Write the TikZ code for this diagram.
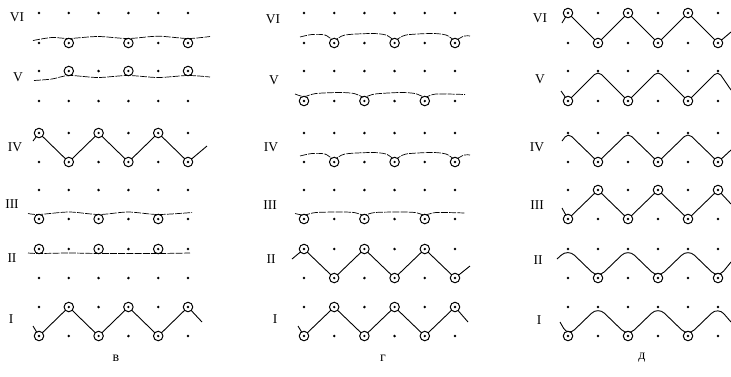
\documentclass[tikz,border=0pt]{standalone}
\usepackage{fontspec}
\setmainfont{Liberation Serif}
\newcommand\stdots[3]{\foreach \cc in {#3}{\node[dt] (#1-#2-\cc-d) at (#1-#2-\cc) {};}}
\newcommand\stloops[3]{\foreach \cc in {#3}{\node[lp] (#1-#2-\cc-l) at (#1-#2-\cc) {};}}
\begin{document}
\begin{tikzpicture}[x=1pt,y=-1pt,
  dt/.style={circle,fill=black,inner sep=0pt,minimum size=2.8pt},
  lp/.style={circle,draw=black,fill=white,line width=1pt,inner sep=0pt,minimum size=9.5pt,
     path picture={\fill[black] (path picture bounding box.center) circle (1.3pt);}},
  thr/.style={line width=0.9pt},
  flt/.style={line width=0.7pt,dash pattern=on 7pt off 1.2pt},
  rl/.style={font=\fontsize{13.5}{13.5}\selectfont,inner sep=0pt},
  pl/.style={font=\fontsize{14}{14}\selectfont,inner sep=0pt}]
\useasboundingbox (0,0) rectangle (731,376);
\fill[white] (0,0) rectangle (731,376);
% grid coordinates
\foreach \pn/\xo/\xs in {b/39/29.8,g/304/30.2,d/568/30}{
  \foreach \rw/\yy in {1/13,2/43,3/71,4/101,5/133,6/162,7/190,8/219,9/249,10/278,11/307,12/336}{
    \foreach \cc in {1,...,6}{
      \coordinate (\pn-\rw-\cc) at ({\xo+(\cc-1)*\xs},\yy);
}}}
% ---------- panel B ----------
\draw[flt] plot[smooth,tension=0.5] coordinates {(33,40.5) (52,37.5) (69,38.5) (98,36.5) (128,38.5) (158,36.2) (188,38.5) (210,36.5)};
\draw[flt] plot[smooth,tension=0.5] coordinates {(34,80.5) (52,79) (69,75.5) (98,77.5) (128,75.5) (158,77.5) (188,75.5) (210,77)};
\draw[thr] (33,141) -- (b-5-1) -- (b-6-2) -- (b-5-3) -- (b-6-4) -- (b-5-5) -- (b-6-6) -- (207,146);
\draw[flt] plot[smooth,tension=0.5] coordinates {(28,213.5) (39,214.5) (69,212) (99,214.5) (128,212) (158,214.5) (192,212.5)};
\draw[flt] plot[smooth,tension=0.5] coordinates {(28,253) (39,253.5) (69,253) (99,253.5) (128,253.5) (158,253.5) (190,253)};
\draw[thr] (33,326) -- (b-12-1) -- (b-11-2) -- (b-12-3) -- (b-11-4) -- (b-12-5) -- (b-11-6) -- (202,322);
% ---------- panel G ----------
\draw[flt] plot[smooth,tension=0.5] coordinates {(300,37) (312,34.5) (325,35) (334,40) (345,35) (372,33.5) (386,35) (395,40) (406,35) (432,33.5) (446,35) (455,40) (464,36) (470,36)};
\draw[flt] plot[smooth,tension=0.5] coordinates {(295,94) (304,96.5) (316,93.5) (340,92.5) (354,93.5) (364,97) (375,94) (400,92.5) (415,93.5) (425,97) (436,94) (465,94.5)};
\draw[flt] plot[smooth,tension=0.5] coordinates {(300,156) (312,153.5) (325,154) (334,159) (345,154) (372,152.5) (386,154) (395,159) (406,154) (432,152.5) (446,154) (455,159) (464,155) (470,155)};
\draw[flt] plot[smooth,tension=0.5] coordinates {(295,213.5) (304,215) (316,212.5) (340,212) (354,212.5) (364,215) (375,212.5) (400,212) (415,212.5) (425,215) (436,212.5) (465,213)};
\draw[thr] (292,259) -- (g-9-1) -- (g-10-2) -- (g-9-3) -- (g-10-4) -- (g-9-5) -- (g-10-6) -- (470,266);
\draw[thr] (298,326) -- (g-12-1) -- (g-11-2) -- (g-12-3) -- (g-11-4) -- (g-12-5) -- (g-11-6) -- (468,322);
% ---------- panel D ----------
\draw[thr] (562,23) -- (d-1-1) -- (d-2-2) -- (d-1-3) -- (d-2-4) -- (d-1-5) -- (d-2-6) -- (731,32);
\draw[thr,rounded corners=5pt] (561,91) -- (d-4-1) -- (d-3-2) -- (d-4-3) -- (d-3-4) -- (d-4-5) -- (d-3-6) -- (731,90);
\draw[thr,rounded corners=5pt] (562,141) -- (d-5-1) -- (d-6-2) -- (d-5-3) -- (d-6-4) -- (d-5-5) -- (d-6-6) -- (731,150);
\draw[thr] (562,208) -- (d-8-1) -- (d-7-2) -- (d-8-3) -- (d-7-4) -- (d-8-5) -- (d-7-6) -- (731,204);
\draw[thr,rounded corners=9pt] (557,259) -- (d-9-1) -- (d-10-2) -- (d-9-3) -- (d-10-4) -- (d-9-5) -- (d-10-6) -- (731,262);
\draw[thr,rounded corners=9pt] (560,322) -- (d-12-1) -- (d-11-2) -- (d-12-3) -- (d-11-4) -- (d-12-5) -- (d-11-6) -- (731,322);
% ---------- stitches B ----------
\stdots{b}{1}{1,...,6}
\stdots{b}{2}{1,5} \stloops{b}{2}{2,4,6}
\stdots{b}{3}{1,3,5} \stloops{b}{3}{2,4,6}
\stdots{b}{4}{1,...,6}
\stloops{b}{5}{1,3,5} \stdots{b}{5}{2,4,6}
\stloops{b}{6}{2,4,6} \stdots{b}{6}{1,3,5}
\stdots{b}{7}{1,...,6}
\stloops{b}{8}{1,3,5} \stdots{b}{8}{2,4,6}
\stloops{b}{9}{1,3,5} \stdots{b}{9}{2,4,6}
\stdots{b}{10}{1,...,6}
\stloops{b}{11}{2,4,6} \stdots{b}{11}{1,3,5}
\stloops{b}{12}{1,3,5} \stdots{b}{12}{2,4,6}
% ---------- stitches G ----------
\stdots{g}{1}{1,...,6}
\stloops{g}{2}{2,4,6} \stdots{g}{2}{1,3,5}
\stdots{g}{3}{1,...,6}
\stloops{g}{4}{1,3,5} \stdots{g}{4}{2,4,6}
\stdots{g}{5}{1,...,6}
\stloops{g}{6}{2,4,6} \stdots{g}{6}{1,3,5}
\stdots{g}{7}{1,...,6}
\stloops{g}{8}{1,3,5} \stdots{g}{8}{2,4,6}
\stloops{g}{9}{1,3,5} \stdots{g}{9}{2,4,6}
\stloops{g}{10}{2,4,6} \stdots{g}{10}{1,3,5}
\stloops{g}{11}{2,4,6} \stdots{g}{11}{1,3,5}
\stloops{g}{12}{1,3,5} \stdots{g}{12}{2,4,6}
% ---------- stitches D ----------
\stloops{d}{1}{1,3,5} \stdots{d}{1}{2,4,6}
\stloops{d}{2}{2,4,6} \stdots{d}{2}{1,3,5}
\stdots{d}{3}{1,...,6}
\stloops{d}{4}{1,3,5} \stdots{d}{4}{2,4,6}
\stdots{d}{5}{1,...,6}
\stloops{d}{6}{2,4,6} \stdots{d}{6}{1,3,5}
\stloops{d}{7}{2,4,6} \stdots{d}{7}{1,3,5}
\stloops{d}{8}{1,3,5} \stdots{d}{8}{2,4,6}
\stdots{d}{9}{1,...,6}
\stloops{d}{10}{2,4,6} \stdots{d}{10}{1,3,5}
\stdots{d}{11}{1,...,6}
\stloops{d}{12}{1,3,5} \stdots{d}{12}{2,4,6}
% ---------- row labels ----------
\node[rl] (bl6) at (17,17) {VI};
\node[rl] (bl5) at (18,77) {V};
\node[rl] (bl4) at (15,147) {IV};
\node[rl] (bl3) at (12,204) {III};
\node[rl] (bl2) at (12,258) {II};
\node[rl] (bl1) at (11,319) {I};
\node[rl] (gl6) at (273,19) {VI};
\node[rl] (gl5) at (274,80) {V};
\node[rl] (gl4) at (271,147) {IV};
\node[rl] (gl3) at (270,205) {III};
\node[rl] (gl2) at (271,259) {II};
\node[rl] (gl1) at (275,319) {I};
\node[rl] (dl6) at (540,18) {VI};
\node[rl] (dl5) at (540,79) {V};
\node[rl] (dl4) at (537,147) {IV};
\node[rl] (dl3) at (537,205) {III};
\node[rl] (dl2) at (538,260) {II};
\node[rl] (dl1) at (539,320) {I};
% ---------- panel letters ----------
\node[pl] (lb) at (116,358) {в};
\node[pl] (lg) at (383,358) {г};
\node[pl] (ld) at (642,358) {д};
\end{tikzpicture}
\end{document}
